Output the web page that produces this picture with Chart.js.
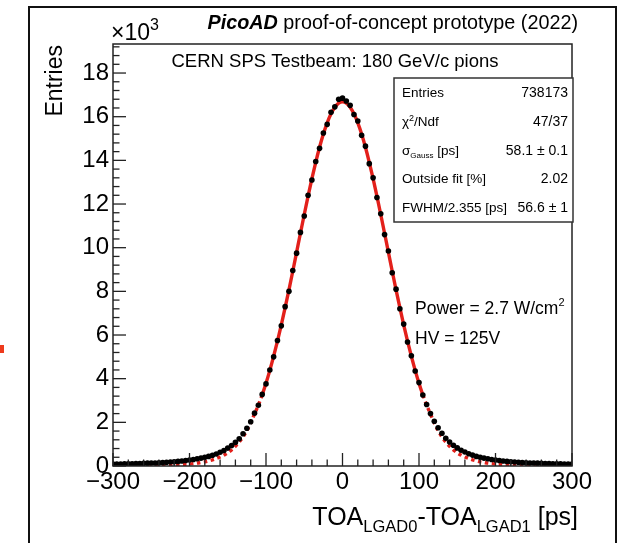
<!DOCTYPE html>
<html>
<head>
<meta charset="utf-8">
<script src="https://cdn.jsdelivr.net/npm/chart.js@4.4.1/dist/chart.umd.min.js"></script>
<style>
  html, body { margin: 0; padding: 0; background: #fff; }
  canvas { display: block; }
</style>
</head>
<body>
<canvas id="my-chart" width="620" height="543"></canvas>
<script>
'use strict';

// ************************* DATA (values in units of 10^3 entries) ***************************

let toaDiff = [-300, -295, -290, -285, -280, -275, -270, -265, -260, -255, -250, -245, -240, -235, -230, -225, -220, -215, -210, -205,
  -200, -195, -190, -185, -180, -175, -170, -165, -160, -155, -150, -145, -140, -135, -130, -125, -120, -115, -110, -105,
  -100, -95, -90, -85, -80, -75, -70, -65, -60, -55, -50, -45, -40, -35, -30, -25, -20, -15, -10, -5,
  0, 5, 10, 15, 20, 25, 30, 35, 40, 45, 50, 55, 60, 65, 70, 75, 80, 85, 90, 95,
  100, 105, 110, 115, 120, 125, 130, 135, 140, 145, 150, 155, 160, 165, 170, 175, 180, 185, 190, 195,
  200, 205, 210, 215, 220, 225, 230, 235, 240, 245, 250, 255, 260, 265, 270, 275, 280, 285, 290, 295, 300];

let entries = [0.09, 0.09, 0.095, 0.10, 0.10, 0.105, 0.11, 0.115, 0.12, 0.13, 0.135, 0.14, 0.15, 0.16, 0.17, 0.18, 0.19, 0.21, 0.23, 0.25,
  0.27, 0.30, 0.33, 0.36, 0.40, 0.44, 0.49, 0.55, 0.63, 0.71, 0.82, 0.94, 1.08, 1.25, 1.48, 1.73, 2.03, 2.42, 2.78, 3.28,
  3.76, 4.40, 5.00, 5.75, 6.42, 7.30, 8.00, 8.95, 9.75, 10.70, 11.45, 12.40, 13.10, 13.95, 14.55, 15.25, 15.65, 16.20, 16.45, 16.80,
  16.85, 16.72, 16.52, 16.10, 15.80, 15.15, 14.65, 13.85, 13.20, 12.30, 11.55, 10.60, 9.85, 8.85, 8.10, 7.20, 6.50, 5.68, 5.05, 4.35,
  3.82, 3.25, 2.82, 2.40, 2.05, 1.75, 1.50, 1.27, 1.10, 0.95, 0.83, 0.72, 0.64, 0.56, 0.50, 0.44, 0.40, 0.36, 0.33, 0.30,
  0.27, 0.25, 0.23, 0.21, 0.19, 0.18, 0.17, 0.16, 0.15, 0.14, 0.135, 0.13, 0.12, 0.115, 0.11, 0.105, 0.10, 0.10, 0.095, 0.09, 0.09];

let fitCurve = [0.01, 0.01, 0.015, 0.015, 0.02, 0.02, 0.02, 0.025, 0.025, 0.03, 0.03, 0.035, 0.035, 0.04, 0.045, 0.05, 0.055, 0.06, 0.07, 0.08,
  0.095, 0.11, 0.13, 0.16, 0.19, 0.23, 0.28, 0.34, 0.41, 0.50, 0.60, 0.74, 0.90, 1.10, 1.33, 1.62, 1.98, 2.38, 2.79, 3.26,
  3.79, 4.38, 5.03, 5.72, 6.46, 7.25, 8.07, 8.92, 9.79, 10.66, 11.52, 12.36, 13.16, 13.91, 14.60, 15.21, 15.72, 16.13, 16.43, 16.62,
  16.68, 16.62, 16.43, 16.13, 15.72, 15.21, 14.60, 13.91, 13.16, 12.36, 11.52, 10.66, 9.79, 8.92, 8.07, 7.25, 6.46, 5.72, 5.03, 4.38,
  3.79, 3.26, 2.79, 2.38, 1.98, 1.62, 1.33, 1.10, 0.90, 0.74, 0.60, 0.50, 0.41, 0.34, 0.28, 0.23, 0.19, 0.16, 0.13, 0.11,
  0.095, 0.08, 0.07, 0.06, 0.055, 0.05, 0.045, 0.04, 0.035, 0.035, 0.03, 0.03, 0.025, 0.025, 0.02, 0.02, 0.02, 0.015, 0.015, 0.01, 0.01];

let fitRange = 105; // fit drawn solid inside +-fitRange, dotted outside

let statLabels = ['Entries', 'chi2', 'sigma', 'Outside fit [%]', 'FWHM/2.355 [ps]'];
let statValues = ['738173', '47/37', '58.1 \u00b1 0.1', '2.02', '56.6 \u00b1 1'];

// ************************* STYLE ***************************

const FONT = '"Liberation Sans", Arial, Helvetica, sans-serif';
const RED = '#e3201b';

function fontOf(p) {
  return (p.style || '') + ' ' + p.size + 'px ' + FONT;
}

// draws a row of text pieces (for sub/superscripts)
function drawRich(ctx, parts, x, y, align) {
  let total = 0;
  parts.forEach(p => {
    ctx.font = fontOf(p);
    p.w = ctx.measureText(p.t).width;
    total += p.w;
  });
  let cx = x;
  if (align === 'right') cx = x - total;
  if (align === 'center') cx = x - total / 2;
  ctx.textAlign = 'left';
  ctx.textBaseline = 'alphabetic';
  parts.forEach(p => {
    ctx.font = fontOf(p);
    ctx.fillText(p.t, cx, y + (p.dy || 0));
    cx += p.w;
  });
}

function line(ctx, x1, y1, x2, y2) {
  ctx.beginPath();
  ctx.moveTo(x1, y1);
  ctx.lineTo(x2, y2);
  ctx.stroke();
}

// ********************** ROOT-LIKE FRAME PLUGIN ********************

let rootFrame = {
  id: 'rootFrame',
  afterDraw(chart) {
    let ctx = chart.ctx;
    let a = chart.chartArea;
    let xs = chart.scales.x;
    let ys = chart.scales.y;
    ctx.save();

    // outer picture frame
    ctx.strokeStyle = '#111';
    ctx.lineWidth = 2;
    ctx.strokeRect(29, 7, 587, 600);

    // little red mark on the left edge
    ctx.fillStyle = '#ee3a1c';
    ctx.fillRect(0, 345, 4, 8);

    // plot frame
    ctx.strokeStyle = '#222';
    ctx.lineWidth = 1.5;
    ctx.strokeRect(a.left, a.top, a.right - a.left, a.bottom - a.top);

    // inside ticks
    ctx.lineWidth = 1.3;
    for (let i = 0; i <= 48; i++) {
      let v = i * 0.4;
      let y = ys.getPixelForValue(v);
      let len = i % 5 === 0 ? 13 : 6.5;
      line(ctx, a.left, y, a.left + len, y);
    }
    for (let v = -300; v <= 300; v += 20) {
      let x = xs.getPixelForValue(v);
      let len = v % 100 === 0 ? 13 : 6.5;
      line(ctx, x, a.bottom, x, a.bottom - len);
    }

    ctx.fillStyle = '#000';

    // axis titles
    ctx.save();
    ctx.translate(62, 45);
    ctx.rotate(-Math.PI / 2);
    ctx.font = fontOf({ size: 23 });
    ctx.textAlign = 'right';
    ctx.textBaseline = 'alphabetic';
    ctx.fillText('Entries', 0, 0);
    ctx.restore();

    drawRich(ctx, [
      { t: 'TOA', size: 25 }, { t: 'LGAD0', size: 16.5, dy: 7 },
      { t: '-TOA', size: 25 }, { t: 'LGAD1', size: 16.5, dy: 7 },
      { t: ' [ps]', size: 25 }
    ], 578, 525, 'right');

    drawRich(ctx, [{ t: '\u00d710', size: 23 }, { t: '3', size: 16, dy: -10 }], 111, 40, 'left');

    // title
    drawRich(ctx, [
      { t: 'PicoAD', size: 19.8, style: 'italic bold' },
      { t: ' proof-of-concept prototype (2022)', size: 19.8 }
    ], 578, 29, 'right');

    drawRich(ctx, [{ t: 'CERN SPS Testbeam: 180 GeV/c pions', size: 18.5 }], 335, 67, 'center');

    // stats box
    ctx.fillStyle = '#fff';
    ctx.fillRect(394, 78, 179, 144);
    ctx.strokeStyle = '#333';
    ctx.lineWidth = 1.5;
    ctx.strokeRect(394, 78, 179, 144);
    ctx.fillStyle = '#000';
    let rowY = [97, 126, 155, 183, 212];
    for (let i = 0; i < statLabels.length; i++) {
      let parts;
      if (statLabels[i] === 'chi2') {
        parts = [{ t: '\u03c7', size: 13.5 }, { t: '2', size: 9, dy: -5 }, { t: '/Ndf', size: 13.5 }];
      } else if (statLabels[i] === 'sigma') {
        parts = [{ t: '\u03c3', size: 13.5 }, { t: 'Gauss', size: 8, dy: 3 }, { t: ' [ps]', size: 13.5 }];
      } else {
        parts = [{ t: statLabels[i], size: 13.5 }];
      }
      drawRich(ctx, parts, 402, rowY[i], 'left');
      drawRich(ctx, [{ t: statValues[i], size: 14 }], 568, rowY[i], 'right');
    }

    // run conditions
    drawRich(ctx, [{ t: 'Power = 2.7 W/cm', size: 17.5 }, { t: '2', size: 11, dy: -8 }], 415, 314, 'left');
    drawRich(ctx, [{ t: 'HV = 125V', size: 17.5 }], 415, 344, 'left');

    ctx.restore();
  }
};

// ********************** CHART ********************

let ctx = document.getElementById('my-chart').getContext('2d');

let dataPoints = toaDiff.map((x, i) => ({ x: x, y: entries[i] }));
let fitPoints = toaDiff.map((x, i) => ({ x: x, y: fitCurve[i] }));

let tickFont = { family: FONT, size: 24 };

let myChartObj = {
  type: 'scatter',
  data: {
    datasets: [{
      label: 'Data',
      data: dataPoints,
      showLine: false,
      pointRadius: 2.8,
      pointBackgroundColor: '#000',
      pointBorderWidth: 0,
      order: 0
    },
    {
      label: 'Fit',
      data: fitPoints,
      showLine: true,
      borderColor: RED,
      borderWidth: 3.4,
      pointRadius: 0,
      cubicInterpolationMode: 'monotone',
      segment: {
        borderDash: c => (Math.abs(c.p0.parsed.x) >= fitRange && Math.abs(c.p1.parsed.x) >= fitRange) ? [3.5, 3.5] : undefined
      },
      order: 1
    }]
  },
  options: {
    responsive: false,
    animation: false,
    layout: { padding: { left: 0, right: 48, top: 44, bottom: 0 } },
    plugins: {
      legend: { display: false },
      tooltip: { enabled: false }
    },
    scales: {
      x: {
        type: 'linear',
        min: -300,
        max: 300,
        grid: { display: false, drawTicks: false },
        border: { display: false },
        ticks: {
          stepSize: 100,
          includeBounds: false,
          autoSkip: false,
          maxRotation: 0,
          padding: 2,
          color: '#000',
          font: tickFont,
          callback: v => String(v).replace('-', '\u2212')
        },
        afterFit: s => { s.height = 77; }
      },
      y: {
        type: 'linear',
        min: 0,
        max: 19.33,
        grid: { display: false, drawTicks: false },
        border: { display: false },
        ticks: {
          stepSize: 2,
          includeBounds: false,
          padding: 4,
          color: '#000',
          font: tickFont
        },
        afterFit: s => { s.width = 113; }
      }
    }
  },
  plugins: [rootFrame]
};

new Chart(ctx, myChartObj);
</script>
</body>
</html>
